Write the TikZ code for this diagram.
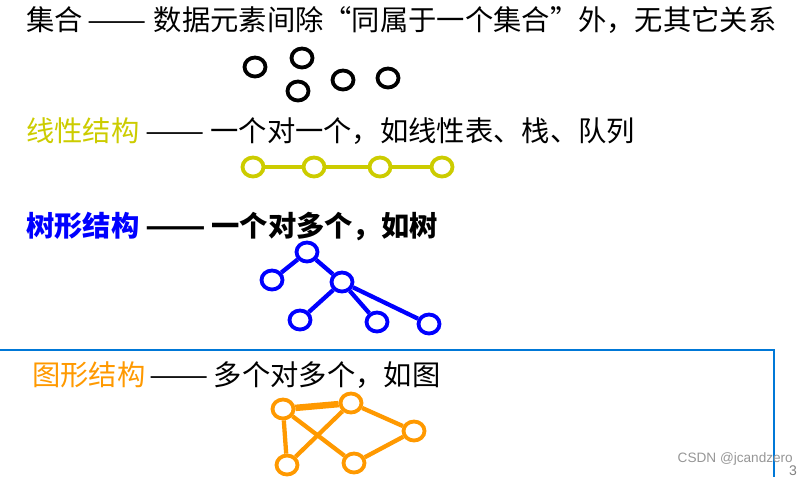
\documentclass[tikz,border=0pt]{standalone}
\usepackage{fontspec}
\setmainfont{Noto Sans CJK SC}
\newfontfamily\markfont{Liberation Sans}
\usetikzlibrary{positioning,shapes.geometric}
\definecolor{linyellow}{RGB}{204,204,0}
\definecolor{treeblue}{RGB}{0,0,255}
\definecolor{graphorange}{RGB}{255,153,0}
\definecolor{frameblue}{RGB}{0,120,215}
\definecolor{markgray}{RGB}{150,150,150}
\newcommand{\longdash}{\scalebox{1.25}[1]{——}}
\tikzset{
    %Define style for headings
    head/.style={
           inner sep=0pt,
           anchor=base west,
           font=\fontsize{28.3}{30}\selectfont},
    boldhead/.style={
           head,
           font=\fontsize{28.3}{30}\selectfont\bfseries},
    %Define style for data elements
    elem/.style={
           ellipse,
           draw, line width=3.8pt,
           minimum width=21pt,
           minimum height=19pt,
           inner sep=0pt},
    % Define edge style
    link/.style={
           line width=4.3pt},
    biglink/.style={
           line width=6.5pt}
}
\begin{document}
\begin{tikzpicture}[x=1pt, y=-1pt]
 \useasboundingbox (0,0) rectangle (808,477);
 %headings
    \node[head] (sethead) at (26,30) {集合};
    \node[head, base right=4.5pt of sethead] (setdash) {\longdash};
    \node[head, base right=6.5pt of setdash] (settext) {数据元素间除“同属于一个集合”外，无其它关系};
    \node[head, text=linyellow] (linhead) at (26,141) {线性结构};
    \node[head, base right=6pt of linhead] (lindash) {\longdash};
    \node[head, base right=5pt of lindash] (lintext) {一个对一个，如线性表、栈、队列};
    \node[boldhead, text=treeblue] (treehead) at (26,236) {树形结构};
    \node[boldhead, base right=5.5pt of treehead] (treedash) {\longdash};
    \node[boldhead, base right=5pt of treedash] (treetext) {一个对多个，如树};
    \node[head, text=graphorange] (graphhead) at (32,385) {图形结构};
    \node[head, base right=3.5pt of graphhead] (graphdash) {\longdash};
    \node[head, base right=5pt of graphdash] (graphtext) {多个对多个，如图};
 %set
    \node[elem] (s1) at (255,67) {};
    \node[elem] (s2) at (302,58) {};
    \node[elem] (s3) at (298,91) {};
    \node[elem] (s4) at (343,80) {};
    \node[elem] (s5) at (388,78) {};
 %linear
    \begin{scope}[every node/.append style={draw=linyellow, line width=4.3pt}]
    \node[elem] (l1) at (253,167) {};
    \node[elem] (l2) at (314,167) {};
    \node[elem] (l3) at (380,167) {};
    \node[elem] (l4) at (442,167) {};
    \end{scope}
    \draw[link, linyellow] (l1) -- (l2);
    \draw[link, linyellow] (l2) -- (l3);
    \draw[link, linyellow] (l3) -- (l4);
 %tree
    \begin{scope}[every node/.append style={draw=treeblue, line width=4.3pt}]
    \node[elem] (root) at (307,252) {};
    \node[elem] (tl) at (272,280) {};
    \node[elem] (tm) at (342,282) {};
    \node[elem] (tbl) at (300,320) {};
    \node[elem] (tbm) at (377,322) {};
    \node[elem] (tbr) at (429,324) {};
    \end{scope}
    \draw[link, treeblue] (root) -- (tl);
    \draw[link, treeblue] (root) -- (tm);
    \draw[link, treeblue] (tm) -- (tbl);
    \draw[link, treeblue] (tm) -- (tbm);
    \draw[link, treeblue] (tm) -- (tbr);
 %graph
    \begin{scope}[every node/.append style={draw=graphorange, line width=4.3pt}]
    \node[elem] (ga) at (283,409) {};
    \node[elem] (gb) at (351,403) {};
    \node[elem] (gc) at (414,431) {};
    \node[elem] (gd) at (287,465) {};
    \node[elem] (ge) at (354,463) {};
    \end{scope}
    \draw[biglink, graphorange] (ga) -- (gb);
    \draw[link, graphorange] (ga) -- (gd);
    \draw[link, graphorange] (ga) -- (ge);
    \draw[link, graphorange] (gb) -- (gd);
    \draw[link, graphorange] (gb) -- (gc);
    \draw[link, graphorange] (ge) -- (gc);
 %frame and marks
    \draw[frameblue, line width=1.5pt] (0,350) -- (774,350) -- (774,477);
    \node[inner sep=0pt, anchor=base east, text=markgray, font=\markfont\fontsize{13.6}{15}\selectfont] (mark) at (793,462) {CSDN @jcandzero};
    \node[inner sep=0pt, anchor=base east, text=markgray!120, font=\markfont\fontsize{14}{15}\selectfont] (page) at (797,475) {3};
\end{tikzpicture}
\end{document}
